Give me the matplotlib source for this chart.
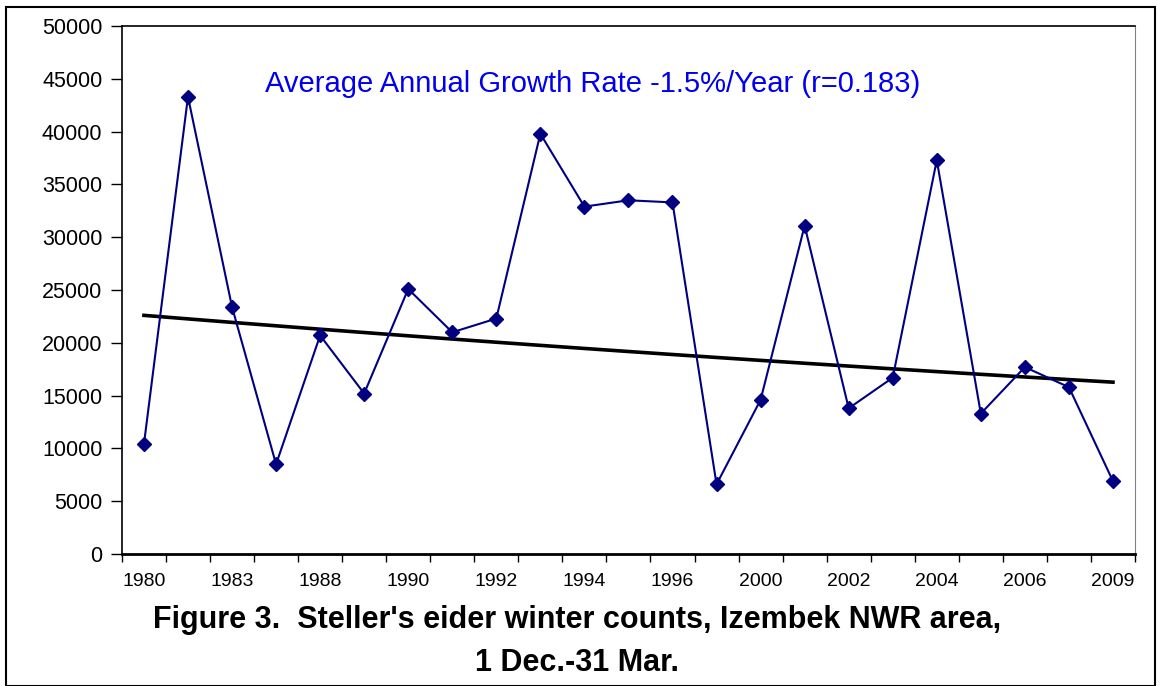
import matplotlib
matplotlib.use("Agg")
import matplotlib.pyplot as plt
import numpy as np
from matplotlib.patches import Rectangle

# eider counts, one value per survey (23 surveys)
counts = [10400, 43300, 23400, 8500, 20700, 15200, 25100, 21000, 22300,
          39800, 32900, 33500, 33300, 6600, 14600, 31100, 13800, 16700,
          37300, 13300, 17700, 15800, 6900]
# only every other year label is printed on the axis
year_labels = ["1980", "1983", "1988", "1990", "1992", "1994", "1996",
               "2000", "2002", "2004", "2006", "2009"]
y_ticks = list(range(0, 50001, 5000))

plt.rcParams['font.family'] = ['Liberation Sans', 'DejaVu Sans']

fig = plt.figure(figsize=(11.61, 6.86), dpi=100)
ax = fig.add_axes([0.105, 0.1924, 0.8726, 0.7696])

x = np.arange(len(counts))
y = np.array(counts, dtype=float)

# exponential trend (fit on log of counts)
b, a = np.polyfit(x, np.log(y), 1)
trend = np.exp(a + b * x)

ax.plot(x, trend, color="black", lw=2.6, zorder=2)
ax.plot(x, y, color="#000080", lw=1.5, marker="D", markersize=7,
        zorder=3)

ax.set_xlim(-0.5, len(counts) - 0.5)
ax.set_ylim(0, 50000)
ax.set_yticks(y_ticks)
ax.set_yticklabels([str(v) for v in y_ticks], fontsize=15.5)
ax.tick_params(axis="y", length=8, width=1, pad=6)

ax.set_xticks(x[::2])
ax.set_xticklabels(year_labels, fontsize=14)
ax.tick_params(axis="x", which="major", length=0, pad=14)
ax.set_xticks(np.arange(-0.5, len(counts)), minor=True)
ax.tick_params(axis="x", which="minor", length=6, width=1, direction="out")

ax.spines["right"].set_color("#808080")
ax.spines["bottom"].set_linewidth(2)
ax.spines["left"].set_linewidth(1.2)
ax.spines["top"].set_linewidth(1.2)

ax.text(0.465, 0.89, "Average Annual Growth Rate -1.5%/Year (r=0.183)",
        transform=ax.transAxes, ha="center", va="center", color="#0000EE",
        fontsize=21)

fig.text(0.497, 0.096, "Figure 3.  Steller's eider winter counts, Izembek NWR area,",
         ha="center", va="center", fontsize=22, fontweight="bold")
fig.text(0.497, 0.034, "1 Dec.-31 Mar.", ha="center", va="center",
         fontsize=22, fontweight="bold")

# outer border around the whole chart
fig.patches.append(Rectangle((0.005, 0.0), 0.99, 0.99, transform=fig.transFigure,
                             fill=False, edgecolor="black", lw=1.5))

fig.savefig("out.png", dpi=100)
